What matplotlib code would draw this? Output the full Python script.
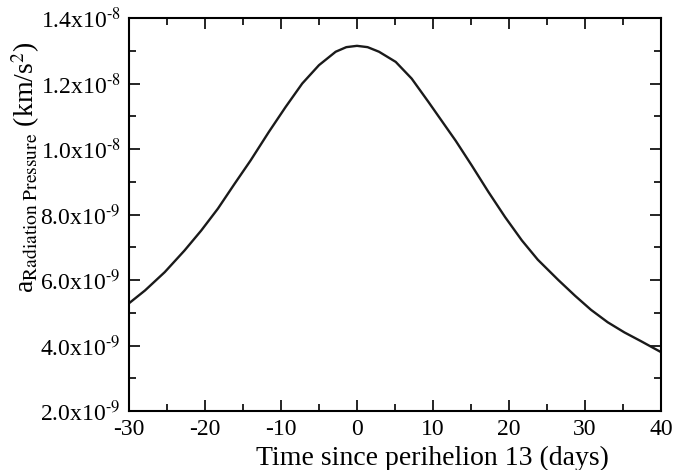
import matplotlib
matplotlib.use("Agg")
import matplotlib.pyplot as plt
from matplotlib.ticker import MultipleLocator, FuncFormatter

plt.rcParams['font.family'] = ['Liberation Serif', 'DejaVu Serif']
plt.rcParams['mathtext.fontset'] = 'stix'

days = [-30, -27.9, -25.3, -22.7, -20.5, -18.3, -16.1, -14.0, -11.6, -9.4, -7.2, -5.0,
        -2.8, -1.4, 0, 1.4, 2.9, 5.1, 7.2, 9.4, 12.0, 13.0, 15.1, 17.3, 19.5, 21.7, 23.8,
        26.5, 28.7, 30.8, 33.0, 35.2, 37.4, 40]
accel_e9 = [5.29, 5.68, 6.24, 6.90, 7.51, 8.18, 8.94, 9.65, 10.52, 11.28, 12.0, 12.56,
            12.97, 13.11, 13.15, 13.11, 12.97, 12.66, 12.15, 11.44, 10.58, 10.25, 9.50,
            8.69, 7.92, 7.21, 6.62, 6.00, 5.52, 5.09, 4.71, 4.40, 4.13, 3.80]
accel = [v * 1e-9 for v in accel_e9]

fig = plt.figure(figsize=(6.73, 4.70), dpi=100)
ax = fig.add_axes([0.1917, 0.1255, 0.7903, 0.8362])
ax.plot(days, accel, color='#1a1a1a', lw=1.7)

ax.set_xlim(-30, 40)
ax.set_ylim(2e-9, 1.4e-8)
ax.xaxis.set_major_locator(MultipleLocator(10))
ax.xaxis.set_minor_locator(MultipleLocator(5))
ax.yaxis.set_major_locator(MultipleLocator(2e-9))
ax.yaxis.set_minor_locator(MultipleLocator(1e-9))

def yfmt(v, pos):
    if v >= 1e-8 - 1e-15:
        return r'%.1fx10$^{\text{-8}}$' % (v / 1e-8)
    return r'%.1fx10$^{\text{-9}}$' % (v / 1e-9)

ax.yaxis.set_major_formatter(FuncFormatter(yfmt))
ax.xaxis.set_major_formatter(FuncFormatter(lambda v, p: '%d' % v))

ax.tick_params(which='both', direction='in', top=True, right=True, labelsize=17, width=1.2)
ax.tick_params(which='major', length=8)
ax.tick_params(axis='y', which='major', pad=6)
ax.tick_params(axis='x', which='major', pad=6)
ax.tick_params(which='minor', length=5)
for s in ax.spines.values():
    s.set_linewidth(1.5)

ax.set_xlabel('Time since perihelion 13 (days)', fontsize=20, labelpad=0)
ax.xaxis.set_label_coords(0.571, -0.088)
ax.set_ylabel(r'a$_{\mathrm{Radiation\ Pressure}}$ (km/s$^{2}$)', fontsize=20)
ax.yaxis.set_label_coords(-0.163, 0.62)

fig.savefig('out.png', dpi=100)
